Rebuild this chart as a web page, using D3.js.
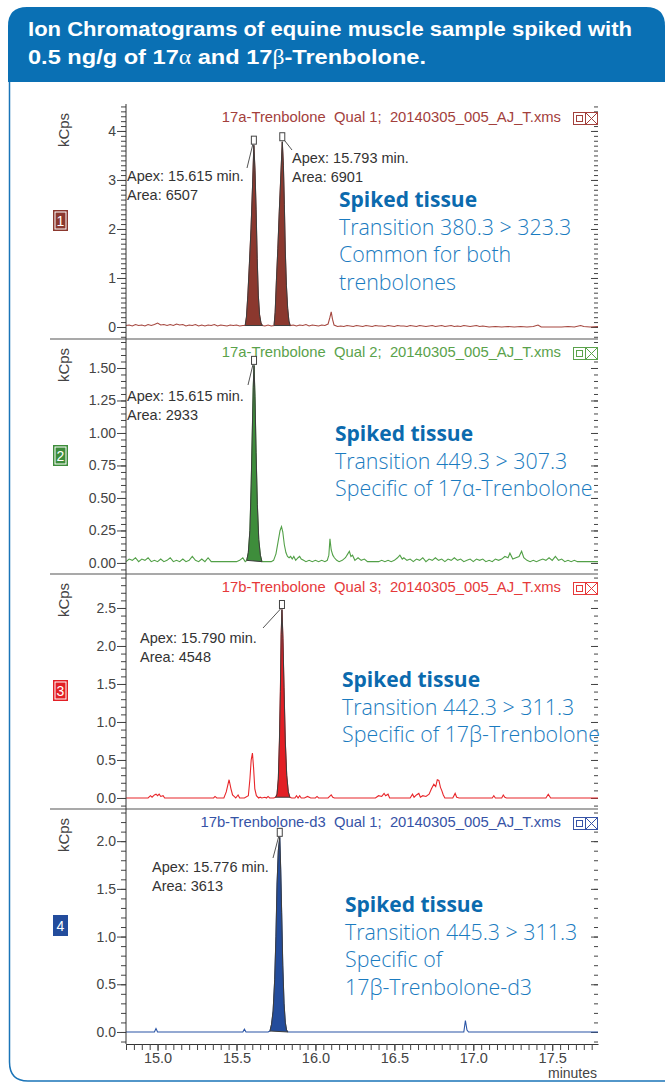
<!DOCTYPE html>
<html>
<head>
<meta charset="utf-8">
<script src="https://cdn.jsdelivr.net/npm/d3@7"></script>
<style>
  body { margin: 0; background: #fff; }
  svg { display: block; }
  text { font-family: "Liberation Sans", Arial, sans-serif; }
</style>
</head>
<body>
<svg id="chart" width="665" height="1084"></svg>
<script>
// ---- data ----
const panelNames = [
  "17a-Trenbolone  Qual 1;  20140305_005_AJ_T.xms",
  "17a-Trenbolone  Qual 2;  20140305_005_AJ_T.xms",
  "17b-Trenbolone  Qual 3;  20140305_005_AJ_T.xms",
  "17b-Trenbolone-d3  Qual 1;  20140305_005_AJ_T.xms"
];
const badgeLabels = ["1", "2", "3", "4"];
const yDomains = [[-0.245, 4.55], [-0.085, 1.723], [-0.145, 2.947], [-0.126, 2.337]];
const yTicks = [
  [0, 1, 2, 3, 4],
  [0, 0.25, 0.5, 0.75, 1.0, 1.25, 1.5],
  [0, 0.5, 1.0, 1.5, 2.0, 2.5],
  [0, 0.5, 1.0, 1.5, 2.0]
];
const yMinorStep = [0.1, 0.05, 0.1, 0.1];
const yFormats = ["d", ".2f", ".1f", ".1f"];
const xTicks = [15.0, 15.5, 16.0, 16.5, 17.0, 17.5];
const xDomain = [14.8, 17.79];

// traces: [minutes, kCps]
const trace1 = [
  [14.80,0.03],[14.82,0.04],[14.84,0.02],[14.86,0.05],[14.88,0.03],[14.90,0.04],[14.92,0.02],[14.94,0.05],
  [14.96,0.03],[14.98,0.05],[15.00,0.08],[15.02,0.04],[15.04,0.05],[15.06,0.03],[15.08,0.05],[15.10,0.03],
  [15.12,0.06],[15.14,0.04],[15.16,0.05],[15.18,0.02],[15.20,0.04],[15.22,0.03],[15.24,0.05],[15.26,0.02],
  [15.28,0.04],[15.30,0.02],[15.32,0.04],[15.34,0.03],[15.36,0.05],[15.38,0.02],[15.40,0.04],[15.42,0.03],
  [15.44,0.02],[15.46,0.04],[15.48,0.03],[15.50,0.04],[15.52,0.02],[15.54,0.03],
  [15.555,0.03],[15.563,0.20],[15.572,0.65],[15.582,1.30],[15.592,2.00],[15.602,2.90],[15.610,3.71],
  [15.617,3.20],[15.624,2.40],[15.631,1.40],[15.638,0.65],[15.646,0.25],[15.655,0.08],[15.664,0.03],
  [15.68,0.02],[15.70,0.04],[15.72,0.02],
  [15.738,0.03],[15.745,0.30],[15.753,0.95],[15.762,1.60],[15.771,2.35],[15.781,3.10],[15.790,3.78],
  [15.797,3.30],[15.803,2.50],[15.809,1.55],[15.816,0.85],[15.824,0.38],[15.832,0.12],[15.840,0.03],
  [15.86,0.04],[15.88,0.02],[15.90,0.04],[15.92,0.03],[15.94,0.05],[15.96,0.02],[15.98,0.04],[16.00,0.03],
  [16.02,0.02],[16.04,0.04],[16.06,0.03],[16.08,0.06],[16.092,0.20],[16.100,0.31],[16.108,0.16],[16.118,0.04],
  [16.14,0.01],[16.16,0.02],[16.18,0.01],[16.20,0.03],[16.22,0.02],[16.24,0.01],[16.26,0.03],[16.28,0.02],
  [16.30,0.01],[16.32,0.03],[16.34,0.02],[16.36,0.01],[16.38,0.03],[16.40,0.02],[16.42,0.02],[16.44,0.01],
  [16.46,0.03],[16.48,0.02],[16.50,0.01],[16.52,0.03],[16.54,0.02],[16.56,0.02],[16.58,0.01],[16.60,0.03],
  [16.62,0.02],[16.64,0.01],[16.66,0.03],[16.68,0.02],[16.70,0.01],[16.72,0.02],[16.74,0.03],[16.76,0.01],
  [16.78,0.02],[16.80,0.03],[16.82,0.01],[16.84,0.02],[16.86,0.03],[16.88,0.01],[16.90,0.02],[16.92,0.01],
  [16.94,0.03],[16.96,0.02],[16.98,0.01],[17.00,0.02],[17.02,0.03],[17.04,0.01],[17.06,0.02],[17.08,0.01],
  [17.10,0.00],[17.14,0.01],[17.18,0.00],[17.22,0.01],[17.26,0.00],[17.30,0.01],[17.34,0.00],[17.38,0.01],
  [17.41,0.04],[17.43,0.00],[17.50,0.00],[17.56,0.00],[17.60,0.01],[17.64,0.00],[17.68,0.03],[17.70,0.01],
  [17.74,0.00],[17.79,0.01]
];
const trace2 = [
  [14.80,0.01],[14.82,0.03],[14.84,0.02],[14.86,0.04],[14.88,0.01],[14.90,0.03],[14.92,0.02],[14.94,0.04],
  [14.96,0.01],[14.98,0.02],[15.00,0.01],[15.02,0.03],[15.04,0.01],[15.06,0.02],[15.08,0.04],[15.10,0.01],
  [15.12,0.02],[15.14,0.01],[15.16,0.03],[15.18,0.01],[15.20,0.02],[15.22,0.05],[15.24,0.02],[15.26,0.01],
  [15.28,0.03],[15.30,0.01],[15.32,0.04],[15.34,0.01],[15.38,0.01],[15.44,0.01],[15.50,0.01],[15.52,0.02],
  [15.54,0.04],[15.555,0.01],
  [15.565,0.02],[15.575,0.08],[15.585,0.25],[15.593,0.60],[15.600,1.00],[15.606,1.35],[15.611,1.52],
  [15.617,1.28],[15.624,0.85],[15.632,0.45],[15.641,0.18],[15.651,0.06],[15.661,0.01],
  [15.68,0.01],[15.70,0.01],[15.72,0.01],[15.735,0.02],[15.750,0.07],[15.763,0.16],[15.776,0.25],
  [15.785,0.28],[15.793,0.24],[15.803,0.14],[15.813,0.08],[15.823,0.05],[15.833,0.04],[15.843,0.05],
  [15.853,0.03],[15.863,0.05],[15.875,0.02],[15.89,0.04],[15.90,0.05],[15.91,0.03],[15.925,0.02],
  [15.94,0.01],[15.96,0.02],[15.98,0.01],[16.00,0.02],[16.02,0.01],[16.04,0.02],[16.06,0.01],[16.075,0.02],
  [16.085,0.06],[16.092,0.185],[16.100,0.10],[16.11,0.06],[16.12,0.04],[16.135,0.02],[16.15,0.01],
  [16.17,0.02],[16.19,0.04],[16.205,0.07],[16.215,0.09],[16.225,0.05],[16.235,0.06],[16.25,0.02],
  [16.27,0.04],[16.29,0.02],[16.31,0.03],[16.33,0.01],[16.36,0.01],[16.40,0.01],[16.42,0.02],[16.44,0.01],
  [16.46,0.02],[16.48,0.01],[16.50,0.02],[16.52,0.04],[16.535,0.06],[16.55,0.03],[16.56,0.04],[16.58,0.02],
  [16.60,0.03],[16.62,0.01],[16.64,0.03],[16.66,0.02],[16.68,0.04],[16.70,0.01],[16.72,0.03],[16.74,0.02],
  [16.76,0.04],[16.78,0.02],[16.80,0.03],[16.82,0.01],[16.84,0.03],[16.86,0.02],[16.88,0.04],[16.90,0.02],
  [16.92,0.03],[16.94,0.01],[16.96,0.02],[16.98,0.03],[17.00,0.01],[17.02,0.03],[17.04,0.02],[17.06,0.03],
  [17.08,0.01],[17.10,0.02],[17.12,0.01],[17.14,0.03],[17.16,0.02],[17.18,0.03],[17.20,0.05],[17.22,0.04],
  [17.232,0.075],[17.25,0.03],[17.27,0.04],[17.29,0.05],[17.306,0.09],[17.32,0.04],[17.34,0.02],[17.36,0.01],
  [17.38,0.02],[17.40,0.01],[17.42,0.02],[17.44,0.03],[17.46,0.02],[17.48,0.04],[17.50,0.02],[17.52,0.05],
  [17.54,0.02],[17.56,0.03],[17.58,0.01],[17.60,0.02],[17.62,0.01],[17.64,0.02],[17.66,0.01],[17.70,0.01],
  [17.74,0.01],[17.79,0.01]
];
const trace3 = [
  [14.80,0],[14.90,0],[14.94,0],[14.955,0.03],[14.965,0.01],[14.98,0.04],[14.99,0.05],[15.00,0.03],
  [15.01,0.05],[15.02,0.02],[15.035,0.03],[15.045,0],[15.20,0],[15.355,0],[15.364,0.02],[15.375,0],
  [15.42,0],[15.435,0.08],[15.453,0.24],[15.465,0.12],[15.475,0.04],[15.485,0.02],[15.495,0],[15.51,0.04],
  [15.52,0],[15.55,0],[15.575,0.03],[15.585,0.25],[15.593,0.50],[15.601,0.59],[15.608,0.40],[15.616,0.12],
  [15.626,0.03],[15.64,0],[15.65,0.01],[15.66,0],[15.68,0.01],[15.69,0],[15.70,0.02],[15.71,0],[15.735,0],
  [15.748,0.01],[15.757,0.05],[15.765,0.25],[15.772,0.75],[15.778,1.40],[15.783,2.15],[15.788,2.48],
  [15.794,2.10],[15.801,1.45],[15.809,0.75],[15.818,0.30],[15.828,0.08],[15.838,0.01],
  [15.85,0],[15.87,0],[15.88,0.03],[15.89,0],[15.90,0.03],[15.91,0],[15.93,0],[15.95,0.02],[15.97,0],
  [16.00,0],[16.01,0.02],[16.02,0],[16.08,0],[16.09,0.02],[16.10,0.04],[16.11,0.01],[16.12,0],[16.38,0],
  [16.40,0.03],[16.42,0.02],[16.435,0.06],[16.445,0.03],[16.46,0.05],[16.47,0],[16.60,0],[16.615,0.05],
  [16.625,0.01],[16.64,0.04],[16.655,0.06],[16.665,0.01],[16.68,0.03],[16.70,0.02],[16.72,0.05],
  [16.735,0.12],[16.75,0.18],[16.762,0.15],[16.772,0.24],[16.782,0.23],[16.792,0.14],[16.80,0.10],
  [16.81,0.04],[16.82,0],[16.87,0],[16.885,0.06],[16.895,0.01],[16.91,0],[17.12,0],[17.13,0.03],[17.14,0],
  [17.18,0],[17.19,0.04],[17.20,0.01],[17.21,0],[17.46,0],[17.475,0.05],[17.49,0],[17.79,0]
];
const trace4 = [
  [14.80,0],[14.98,0],[14.99,0.035],[15.00,0],[15.54,0],[15.55,0.03],[15.56,0],[15.70,0],
  [15.712,0.01],[15.722,0.08],[15.732,0.22],[15.742,0.55],[15.750,1.00],[15.757,1.55],[15.765,1.90],
  [15.774,2.04],[15.780,1.70],[15.786,1.25],[15.793,0.70],[15.801,0.30],[15.809,0.10],[15.817,0.02],
  [15.826,0],[16.94,0],[16.95,0.12],[16.96,0.02],[16.97,0],[17.79,0]
];
const traces = [trace1, trace2, trace3, trace4];

// integrated peak windows (minutes)
const peakWindows = [
  [[15.555, 15.664], [15.738, 15.840]],
  [[15.565, 15.661]],
  [[15.748, 15.838]],
  [[15.712, 15.826]]
];
const apexText = [
  [["Apex: 15.615 min.", "Area: 6507"], ["Apex: 15.793 min.", "Area: 6901"]],
  [["Apex: 15.615 min.", "Area: 2933"]],
  [["Apex: 15.790 min.", "Area: 4548"]],
  [["Apex: 15.776 min.", "Area: 3613"]]
];
const notes = [
  ["Spiked tissue", "Transition 380.3 > 323.3", "Common for both", "trenbolones"],
  ["Spiked tissue", "Transition 449.3 > 307.3", "Specific of 17α-Trenbolone"],
  ["Spiked tissue", "Transition 442.3 > 311.3", "Specific of 17β-Trenbolone"],
  ["Spiked tissue", "Transition 445.3 > 311.3", "Specific of", "17β-Trenbolone-d3"]
];

// ---- layout / style ----
const colors = [
  { text: "#a3403c", line: "#a5473f", fill: "#8b382e" },
  { text: "#5aa24b", line: "#52a047", fill: "#3e8d3b" },
  { text: "#e6393a", line: "#e8262a", fill: "#e21f25" },
  { text: "#3653a6", line: "#2b55a6", fill: "#234c9c" }
];
const panelTop = [104, 339, 574, 809];
const panelH = 235;
const axisX = 126, rightX = 598;
// apex label [textX, firstBaseline, leaderX, leaderY]
const apexPos = [
  [[127, 181, 247, 168], [292, 163, 292, 150]],
  [[127, 401, 248, 385]],
  [[140, 643, 263, 628]],
  [[152, 872, 273, 858]]
];
const notePos = [[339, 207], [335, 441], [342, 687], [345, 912]];
const noteGap = 27.6;

const svg = d3.select("#chart");
const x = d3.scaleLinear().domain(xDomain).range([axisX, rightX]);

// frame + header
svg.append("path")
  .attr("d", "M9.5,80 V1062 Q9.5,1081 28,1081 H700")
  .attr("fill", "none").attr("stroke", "#1a74b8").attr("stroke-width", 1.5);
svg.append("path")
  .attr("d", "M8,82 V26 Q8,7 27,7 H646 Q665,7 665,26 V82 Z")
  .attr("fill", "#0a70b4");

const title = svg.append("g").attr("fill", "#fff")
  .style("font-family", "'Liberation Sans Narrow', 'DejaVu Sans Condensed', sans-serif")
  .style("font-weight", "bold").style("font-size", "21px");
title.append("text").attr("x", 28).attr("y", 36)
  .attr("textLength", 604).attr("lengthAdjust", "spacingAndGlyphs")
  .text("Ion Chromatograms of equine muscle sample spiked with");
const t2 = title.append("text").attr("x", 28).attr("y", 64)
  .attr("textLength", 398).attr("lengthAdjust", "spacingAndGlyphs");
t2.append("tspan").text("0.5 ng/g of 17");
t2.append("tspan").style("font-family", "'Liberation Serif', serif").style("font-weight", "normal").text("α");
t2.append("tspan").text(" and 17");
t2.append("tspan").style("font-family", "'Liberation Serif', serif").style("font-weight", "normal").text("β");
t2.append("tspan").text("-Trenbolone.");

function minorValues(dom, step) {
  const a = Math.ceil(dom[0] / step - 1e-9), b = Math.floor(dom[1] / step + 1e-9);
  return d3.range(a, b + 1).map(k => +(k * step).toFixed(4));
}

traces.forEach((trace, i) => {
  const top = panelTop[i], bottom = top + panelH;
  const c = colors[i];
  const y = d3.scaleLinear().domain(yDomains[i]).range([bottom, top]);
  const g = svg.append("g");

  if (i > 0) {
    g.append("line").attr("x1", 50).attr("x2", rightX).attr("y1", top).attr("y2", top)
      .attr("stroke", "#8d8d8d").attr("stroke-width", 1.5);
  }

  const minor = minorValues(yDomains[i], yMinorStep[i]);
  const styleAxis = sel => {
    sel.select(".domain").remove();
    sel.selectAll("line").attr("stroke", "#444");
    sel.selectAll("text").attr("fill", "#444").style("font-size", "14px")
      .style("font-family", "'Liberation Sans', Arial, sans-serif");
  };
  g.append("g").attr("transform", `translate(${axisX},0)`)
    .call(d3.axisLeft(y).tickValues(minor).tickSize(5).tickFormat(""))
    .call(styleAxis);
  g.append("g").attr("transform", `translate(${axisX},0)`)
    .call(d3.axisLeft(y).tickValues(yTicks[i]).tickSize(9).tickPadding(1).tickFormat(d3.format(yFormats[i])))
    .call(styleAxis);
  g.append("g").attr("transform", `translate(${rightX},0)`)
    .call(d3.axisRight(y).tickValues(minor).tickSize(-4).tickFormat(""))
    .call(styleAxis);
  g.append("g").attr("transform", `translate(${rightX},0)`)
    .call(d3.axisRight(y).tickValues(yTicks[i]).tickSize(-7).tickFormat(""))
    .call(styleAxis);

  // kCps label
  g.append("text").attr("transform", `translate(69,${top + 26}) rotate(-90)`)
    .attr("text-anchor", "middle").attr("fill", "#444").style("font-size", "15px").text("kCps");

  // badge
  g.append("rect").attr("x", 53).attr("y", top + 106).attr("width", 15).attr("height", 21).attr("fill", c.fill);
  if (i < 3) {
    g.append("rect").attr("x", 55).attr("y", top + 108).attr("width", 11).attr("height", 17)
      .attr("fill", "none").attr("stroke", "#fff").attr("stroke-width", 1);
  }
  g.append("text").attr("x", 60.5).attr("y", top + 122).attr("text-anchor", "middle")
    .attr("fill", "#fff").style("font-size", "14px").text(badgeLabels[i]);

  // panel name + window icons
  g.append("text").attr("x", 561).attr("y", top + 18).attr("text-anchor", "end")
    .attr("fill", c.text).style("font-size", "14.8px").style("white-space", "pre").text(panelNames[i]);
  g.append("rect").attr("x", 573.5).attr("y", top + 8.5).attr("width", 12).attr("height", 12)
    .attr("fill", "#fff").attr("stroke", c.text);
  g.append("rect").attr("x", 576.5).attr("y", top + 11.5).attr("width", 6).attr("height", 6)
    .attr("fill", "none").attr("stroke", c.text);
  g.append("rect").attr("x", 585.5).attr("y", top + 8.5).attr("width", 12).attr("height", 12)
    .attr("fill", "#fff").attr("stroke", c.text);
  g.append("path").attr("d", `M585.5,${top + 8.5} L597.5,${top + 20.5} M597.5,${top + 8.5} L585.5,${top + 20.5}`)
    .attr("stroke", c.text).attr("fill", "none");

  // trace
  const line = d3.line().x(d => x(d[0])).y(d => y(d[1]));
  g.append("path").datum(trace).attr("d", line)
    .attr("fill", "none").attr("stroke", c.line).attr("stroke-width", 1.1);

  // integrated peaks
  peakWindows[i].forEach((w, k) => {
    const pts = trace.filter(d => d[0] >= w[0] - 1e-9 && d[0] <= w[1] + 1e-9);
    g.append("path").attr("d", line(pts) + "Z")
      .attr("fill", c.fill).attr("stroke", "#3c3c3c").attr("stroke-width", 1);
    const apex = pts.reduce((a, b) => (b[1] > a[1] ? b : a));
    const ax = x(apex[0]), ay = y(apex[1]);
    g.append("rect").attr("x", ax - 2.5).attr("y", ay - 9).attr("width", 5).attr("height", 8)
      .attr("fill", "#fff").attr("stroke", "#444").attr("stroke-width", 1);
    const p = apexPos[i][k];
    const fromX = p[2] > ax ? ax + 2.5 : ax - 1;
    g.append("line").attr("x1", fromX).attr("y1", ay - 1).attr("x2", p[2]).attr("y2", p[3])
      .attr("stroke", "#555").attr("stroke-width", 1);
    apexText[i][k].forEach((s, j) => {
      g.append("text").attr("x", p[0]).attr("y", p[1] + j * 18.5)
        .attr("fill", "#333").style("font-size", "14.5px").text(s);
    });
  });

  // blue notes
  notes[i].forEach((s, j) => {
    g.append("text").attr("x", notePos[i][0]).attr("y", notePos[i][1] + j * noteGap)
      .attr("fill", j === 0 ? "#0b6aae" : "#1a7bc0")
      .style("font-family", "'Open Sans', sans-serif")
      .style("font-weight", j === 0 ? "bold" : "300")
      .style("font-size", j === 0 ? "21px" : "21.4px").text(s);
  });
});

// left axis spine
svg.append("line").attr("x1", axisX).attr("x2", axisX).attr("y1", panelTop[0]).attr("y2", panelTop[3] + panelH)
  .attr("stroke", "#333").attr("stroke-width", 1);

// bottom x axis
const xMinor = minorValues(xDomain, 0.05);
const xg = svg.append("g").attr("transform", `translate(0,${panelTop[3] + panelH})`);
xg.append("g").call(d3.axisBottom(x).tickValues(xMinor).tickSize(6).tickSizeOuter(0).tickFormat(""))
  .call(s => { s.select(".domain").attr("stroke", "#333"); s.selectAll("line").attr("stroke", "#444"); });
xg.append("g").call(d3.axisBottom(x).tickValues(xTicks).tickSize(7).tickPadding(2).tickFormat(d3.format(".1f")))
  .call(s => {
    s.select(".domain").remove();
    s.selectAll("line").attr("stroke", "#444");
    s.selectAll("text").attr("fill", "#444").style("font-size", "14.5px")
      .style("font-family", "'Liberation Sans', Arial, sans-serif");
  });
svg.append("text").attr("x", 597).attr("y", 1078).attr("text-anchor", "end")
  .attr("fill", "#444").style("font-size", "14px").text("minutes");
</script>
</body>
</html>
